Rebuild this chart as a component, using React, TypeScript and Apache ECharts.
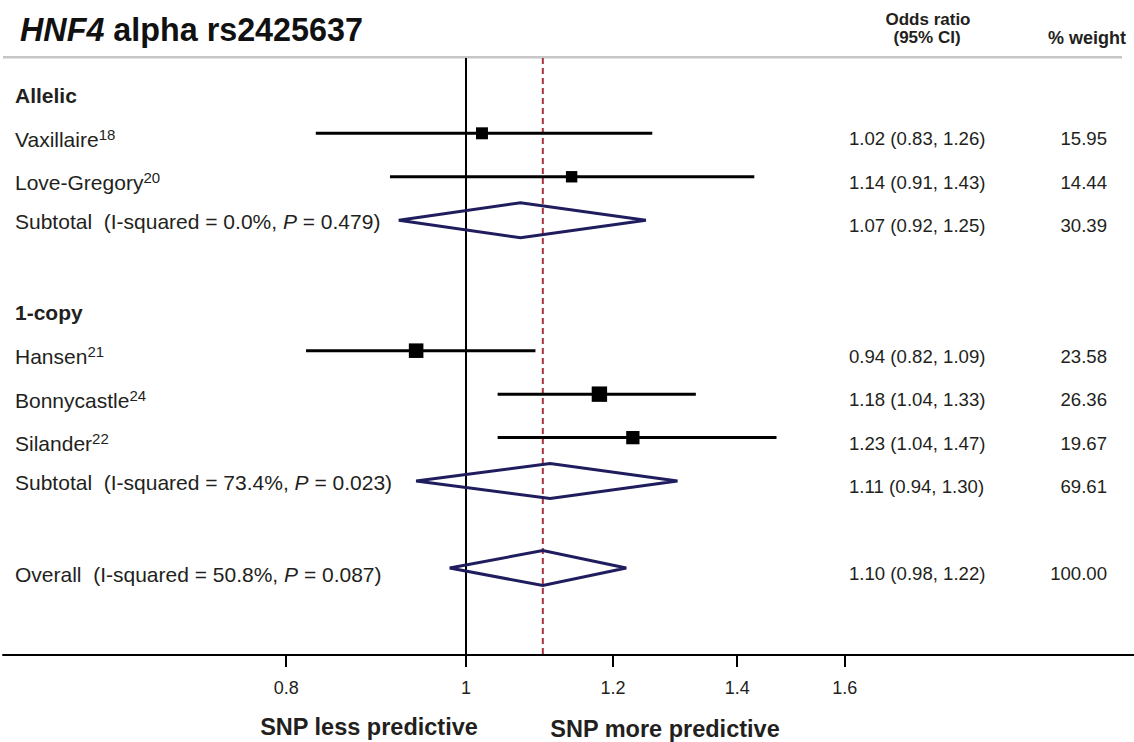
import React, { useEffect, useRef } from "react";
import * as echarts from "echarts";

// ---- data ----
const groupHeaders = ["Allelic", "1-copy"];
const groupRows = [0, 5];

const studyNames = ["Vaxillaire", "Love-Gregory", "Hansen", "Bonnycastle", "Silander"];
const studyRefs = ["18", "20", "21", "24", "22"];
const studyRows = [1, 2, 6, 7, 8];
const studyOR = [1.02, 1.14, 0.94, 1.18, 1.23];
const studyLo = [0.83, 0.91, 0.82, 1.04, 1.04];
const studyHi = [1.26, 1.43, 1.09, 1.33, 1.47];
const studyWeight = [15.95, 14.44, 23.58, 26.36, 19.67];

const pooledNames = ["Subtotal", "Subtotal", "Overall"];
const pooledI2 = ["0.0", "73.4", "50.8"];
const pooledP = ["0.479", "0.023", "0.087"];
const pooledRows = [3, 9, 11];
const pooledOR = [1.07, 1.11, 1.1];
const pooledLo = [0.92, 0.94, 0.98];
const pooledHi = [1.25, 1.3, 1.22];
const pooledWeight = [30.39, 69.61, 100.0];

const tickValues = [0.8, 1, 1.2, 1.4, 1.6];

// ---- layout ----
const FONT = '"Liberation Sans", Arial, Helvetica, sans-serif';
const TEXT = "#231f20";
const NAVY = "#1f1d5e";
const RED = "#a8333f";
const ln = Math.log;

const GRID_LEFT = 3;
const GRID_TOP = 58;
const GRID_BOTTOM_Y = 655;
const X_MIN = -0.57444;
const X_MAX = 0.82878;
const Y_MIN = -0.732;
const Y_MAX = 13.0;
const SQUARE_SCALE = 3.0;
const DIAMOND_HALF = 17.5;
const LABEL_SIZE = 21;

export default function App() {
  const ref = useRef<HTMLDivElement>(null);

  useEffect(() => {
    if (!ref.current) return;
    const chart = echarts.init(ref.current, null, { renderer: "svg" });

    const studyData = studyNames.map((_, i) => [
      ln(studyOR[i]),
      studyRows[i],
      ln(studyLo[i]),
      ln(studyHi[i]),
      studyWeight[i],
    ]);
    const pooledData = pooledNames.map((_, i) => [
      ln(pooledOR[i]),
      pooledRows[i],
      ln(pooledLo[i]),
      ln(pooledHi[i]),
    ]);

    // left-hand labels
    const leftTexts: string[] = [];
    const leftRows: number[] = [];
    const leftOffsets: number[] = [];
    groupHeaders.forEach((h, i) => {
      leftTexts.push(`{h|${h}}`);
      leftRows.push(groupRows[i]);
      leftOffsets.push(5.5);
    });
    studyNames.forEach((n, i) => {
      leftTexts.push(`{n|${n}}{s|${studyRefs[i]}}`);
      leftRows.push(studyRows[i]);
      leftOffsets.push(6);
    });
    pooledNames.forEach((n, i) => {
      leftTexts.push(`{n|${n}  (I-squared = ${pooledI2[i]}%, }{i|P}{n| = ${pooledP[i]})}`);
      leftRows.push(pooledRows[i]);
      leftOffsets.push(i === 2 ? 6 : 1);
    });

    // right-hand columns
    const rightOR: string[] = [];
    const rightW: string[] = [];
    const rightRows: number[] = [];
    studyNames.forEach((_, i) => {
      rightOR.push(`${studyOR[i].toFixed(2)} (${studyLo[i].toFixed(2)}, ${studyHi[i].toFixed(2)})`);
      rightW.push(studyWeight[i].toFixed(2));
      rightRows.push(studyRows[i]);
    });
    pooledNames.forEach((_, i) => {
      rightOR.push(`${pooledOR[i].toFixed(2)} (${pooledLo[i].toFixed(2)}, ${pooledHi[i].toFixed(2)})`);
      rightW.push(pooledWeight[i].toFixed(2));
      rightRows.push(pooledRows[i]);
    });

    const tickLn = tickValues.map(ln);

    const option: any = {
      animation: false,
      backgroundColor: "#fff",
      grid: {
        left: GRID_LEFT,
        right: 0,
        top: GRID_TOP,
        bottom: 742 - GRID_BOTTOM_Y,
        containLabel: false,
      },
      xAxis: {
        type: "value",
        min: X_MIN,
        max: X_MAX,
        splitLine: { show: false },
        axisLine: { show: true, onZero: false, lineStyle: { color: "#000", width: 2 } },
        axisTick: {
          show: true,
          customValues: tickLn,
          length: 12,
          lineStyle: { color: "#000", width: 2 },
        },
        axisLabel: {
          show: true,
          customValues: tickLn,
          margin: 24,
          fontSize: 18,
          fontFamily: FONT,
          color: TEXT,
          formatter: (v: number) => {
            const t = tickValues.find((tv) => Math.abs(ln(tv) - v) < 1e-6);
            return t === undefined ? "" : String(t);
          },
        },
      },
      yAxis: {
        type: "value",
        inverse: true,
        min: Y_MIN,
        max: Y_MAX,
        show: false,
        splitLine: { show: false },
      },
      series: [
        {
          type: "line",
          z: 1,
          silent: true,
          symbol: "none",
          data: [
            [0, Y_MIN],
            [0, Y_MAX],
          ],
          lineStyle: { color: "#000", width: 2 },
        },
        {
          type: "line",
          z: 1,
          silent: true,
          symbol: "none",
          data: [
            [ln(pooledOR[2]), Y_MIN],
            [ln(pooledOR[2]), Y_MAX],
          ],
          lineStyle: { color: RED, width: 2, type: [6, 4] },
        },
        {
          type: "custom",
          z: 3,
          silent: true,
          data: studyData,
          renderItem: (params: any, api: any) => {
            const row = api.value(1);
            const c = api.coord([api.value(0), row]);
            const lo = api.coord([api.value(2), row]);
            const hi = api.coord([api.value(3), row]);
            const side = SQUARE_SCALE * Math.sqrt(api.value(4));
            return {
              type: "group",
              children: [
                {
                  type: "line",
                  shape: { x1: lo[0], y1: lo[1], x2: hi[0], y2: hi[1] },
                  style: { stroke: "#000", lineWidth: 3 },
                },
                {
                  type: "rect",
                  shape: { x: c[0] - side / 2, y: c[1] - side / 2, width: side, height: side },
                  style: { fill: "#000" },
                },
              ],
            };
          },
        },
        {
          type: "custom",
          z: 3,
          silent: true,
          data: pooledData,
          renderItem: (params: any, api: any) => {
            const row = api.value(1);
            const c = api.coord([api.value(0), row]);
            const lo = api.coord([api.value(2), row]);
            const hi = api.coord([api.value(3), row]);
            return {
              type: "polygon",
              shape: {
                points: [
                  [lo[0], lo[1]],
                  [c[0], c[1] - DIAMOND_HALF],
                  [hi[0], hi[1]],
                  [c[0], c[1] + DIAMOND_HALF],
                ],
              },
              style: { fill: "none", stroke: NAVY, lineWidth: 3, lineJoin: "miter" },
            };
          },
        },
        {
          type: "custom",
          z: 4,
          silent: true,
          data: leftRows.map((r, i) => [X_MIN, r, i]),
          renderItem: (params: any, api: any) => {
            const i = api.value(2);
            const p = api.coord([api.value(0), api.value(1)]);
            return {
              type: "text",
              x: 15,
              y: p[1] + leftOffsets[i],
              style: {
                text: leftTexts[i],
                align: "left",
                verticalAlign: "middle",
                fontFamily: FONT,
                fontSize: LABEL_SIZE,
                fill: TEXT,
                rich: {
                  h: { fontFamily: FONT, fontSize: LABEL_SIZE, fontWeight: "bold", fill: TEXT, lineHeight: 25 },
                  n: { fontFamily: FONT, fontSize: LABEL_SIZE, fill: TEXT, lineHeight: 25 },
                  i: { fontFamily: FONT, fontSize: LABEL_SIZE, fontStyle: "italic", fill: TEXT, lineHeight: 25 },
                  s: { fontFamily: FONT, fontSize: 15, fill: TEXT, lineHeight: 15, verticalAlign: "top" },
                },
              },
            };
          },
        },
        {
          type: "custom",
          z: 4,
          silent: true,
          data: rightRows.map((r, i) => [X_MIN, r, i]),
          renderItem: (params: any, api: any) => {
            const i = api.value(2);
            const p = api.coord([api.value(0), api.value(1)]);
            const y = p[1] + 5.5;
            return {
              type: "group",
              children: [
                {
                  type: "text",
                  x: 849,
                  y,
                  style: {
                    text: rightOR[i],
                    align: "left",
                    verticalAlign: "middle",
                    fontFamily: FONT,
                    fontSize: 18.6,
                    fill: TEXT,
                  },
                },
                {
                  type: "text",
                  x: 1107,
                  y,
                  style: {
                    text: rightW[i],
                    align: "right",
                    verticalAlign: "middle",
                    fontFamily: FONT,
                    fontSize: 18.6,
                    fill: TEXT,
                  },
                },
              ],
            };
          },
        },
      ],
      graphic: [
        {
          type: "text",
          x: 20,
          y: 29.5,
          style: {
            text: "{i|HNF4}{b| alpha rs2425637}",
            align: "left",
            verticalAlign: "middle",
            rich: {
              i: { fontFamily: FONT, fontSize: 32.3, fontWeight: "bold", fontStyle: "italic", fill: "#111" },
              b: { fontFamily: FONT, fontSize: 32.3, fontWeight: "bold", fill: "#111" },
            },
          },
        },
        {
          type: "line",
          shape: { x1: 3, y1: 57.3, x2: 1122, y2: 57.3 },
          style: { stroke: "#c6c6c6", lineWidth: 2.5 },
        },
        {
          type: "text",
          x: 928,
          y: 19.5,
          style: {
            text: "Odds ratio",
            align: "center",
            verticalAlign: "middle",
            fontFamily: FONT,
            fontSize: 17,
            fontWeight: "bold",
            fill: TEXT,
          },
        },
        {
          type: "text",
          x: 927,
          y: 37,
          style: {
            text: "(95% CI)",
            align: "center",
            verticalAlign: "middle",
            fontFamily: FONT,
            fontSize: 17,
            fontWeight: "bold",
            fill: TEXT,
          },
        },
        {
          type: "text",
          x: 1087,
          y: 37.5,
          style: {
            text: "% weight",
            align: "center",
            verticalAlign: "middle",
            fontFamily: FONT,
            fontSize: 18,
            fontWeight: "bold",
            fill: TEXT,
          },
        },
        {
          type: "text",
          x: 369,
          y: 726.7,
          style: {
            text: "SNP less predictive",
            align: "center",
            verticalAlign: "middle",
            fontFamily: FONT,
            fontSize: 23.5,
            fontWeight: "bold",
            fill: TEXT,
          },
        },
        {
          type: "text",
          x: 665,
          y: 729,
          style: {
            text: "SNP more predictive",
            align: "center",
            verticalAlign: "middle",
            fontFamily: FONT,
            fontSize: 23.5,
            fontWeight: "bold",
            fill: TEXT,
          },
        },
      ],
    };

    chart.setOption(option);
    return () => chart.dispose();
  }, []);

  return (
    <div
      ref={ref}
      style={{ position: "absolute", left: 0, top: 0, width: 1134, height: 742, background: "#fff" }}
    />
  );
}
